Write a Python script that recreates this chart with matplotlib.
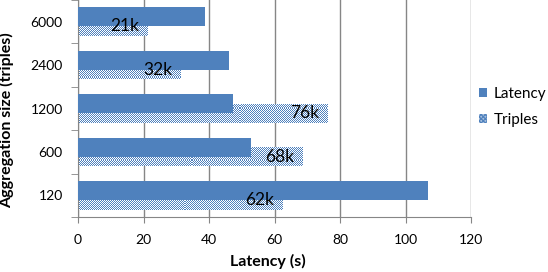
import numpy as np
import matplotlib
matplotlib.use('Agg')
import matplotlib.pyplot as plt
from matplotlib.patches import Patch
from matplotlib.colors import ListedColormap

# data (bottom to top)
sizes = ['120', '600', '1200', '2400', '6000']
latency = [107.0, 52.8, 47.4, 46.2, 38.8]
triples = [62.3, 68.4, 76.1, 31.4, 21.3]   # thousands, drawn on the same axis
triples_lbl = ['62k', '68k', '76k', '32k', '21k']

plt.rcParams['font.family'] = ['Lato', 'DejaVu Sans']
plt.rcParams['hatch.linewidth'] = 0.8

blue = '#4F81BD'
light = '#A7C0DE'
grid_c = '#868686'

fig = plt.figure(figsize=(5.48, 2.72), dpi=100)
ax = fig.add_axes([78 / 548, 1 - 217 / 272, 393 / 548, 217 / 272])

y = np.arange(len(sizes))
h = 0.44
off = 0.11

tb = ax.barh(y - off, triples, height=h, color=light, zorder=2, linewidth=0)
lb = ax.barh(y + off, latency, height=h, color=blue, zorder=3, linewidth=0)

# checkered fill for the triples bars
nx, ny = 393, 217
chk = np.add.outer(np.arange(ny), np.arange(nx)) % 2
cmap = ListedColormap(['white', blue])
for p in tb:
    im = ax.imshow(chk, cmap=cmap, extent=(0, 120, -0.5, 4.5), aspect='auto',
                   interpolation='nearest', zorder=2.5)
    im.set_clip_path(p)

for val, yy, lbl in zip(triples, y - off, triples_lbl):
    ax.annotate(lbl, xy=(val, yy), xytext=(-6, 0), textcoords='offset points',
                ha='right', va='center', fontsize=12.5, color='black', zorder=4)

ax.set_xlim(0, 120)
ax.set_ylim(-0.5, 4.5)
ax.set_xticks(range(0, 121, 20))
ax.set_yticks(y)
ax.set_yticklabels(sizes)
ax.set_yticks(np.arange(-0.5, 5, 1), minor=True)

ax.grid(axis='x', color=grid_c, linewidth=1, zorder=1)
ax.set_axisbelow(True)

for s in ['top', 'right']:
    ax.spines[s].set_visible(False)
for s in ['left', 'bottom']:
    ax.spines[s].set_color(grid_c)

ax.tick_params(axis='x', direction='out', length=4, color=grid_c, pad=8, labelsize=10)
ax.tick_params(axis='y', which='major', length=0, pad=11, labelsize=10)
ax.tick_params(axis='y', which='minor', direction='out', length=5, color=grid_c)

ax.set_xlabel('Latency (s)', fontweight='bold', fontsize=11.5)
ax.xaxis.set_label_coords(0.482, -0.17)
ax.set_ylabel('Aggregation size (triples)', fontweight='bold', fontsize=11.5)
ax.yaxis.set_label_coords(-0.162, 0.447)

handles = [Patch(facecolor=blue, label='Latency'),
           Patch(facecolor=light, edgecolor=blue, hatch='xxxxxxxx', linewidth=0,
                 label='Triples')]
fig.legend(handles=handles, loc='center left', bbox_to_anchor=(479 / 548, 0.607),
           frameon=False, handlelength=0.55, handleheight=0.55, handletextpad=0.4,
           labelspacing=0.8, borderpad=0, borderaxespad=0, fontsize=11)

fig.savefig('out.png', dpi=100)
